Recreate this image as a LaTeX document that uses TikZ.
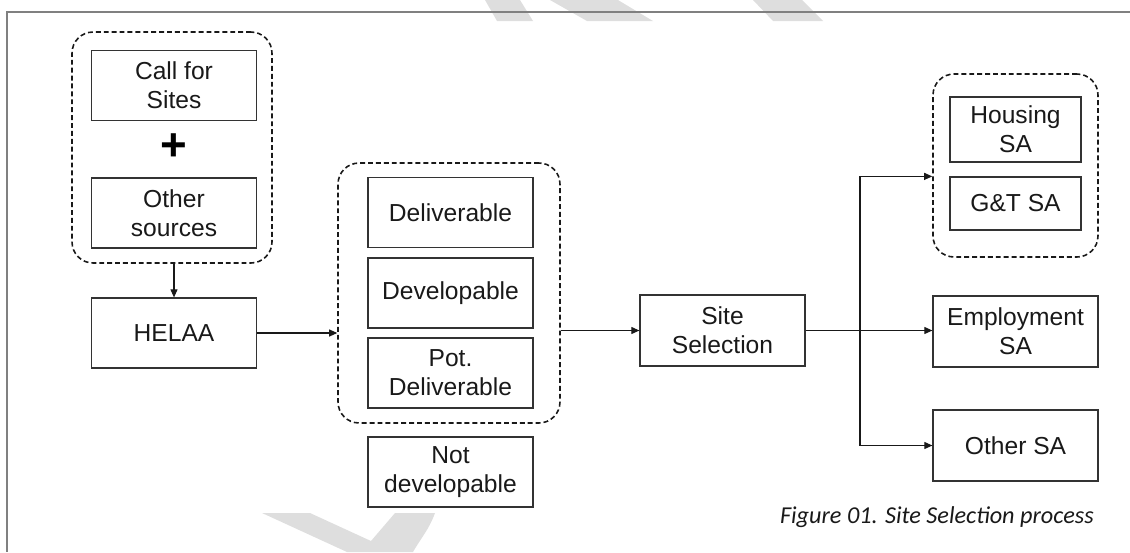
\documentclass[tikz,border=0pt]{standalone}
\usepackage{fontspec}
\setmainfont{Liberation Sans}
\newfontfamily\capfont{Carlito}
\usetikzlibrary{arrows.meta,positioning}

\begin{document}
\begin{tikzpicture}[x=0.02cm,y=-0.02cm,
    box/.style={draw=black!80,line width=0.7pt,text=black!90,align=center,
      font=\fontsize{14}{16.5}\selectfont,inner sep=0pt,
      minimum width=3.3cm,minimum height=1.4cm},
    group/.style={draw=black!90,line width=0.9pt,dash pattern=on 2.8pt off 1.7pt,
      rounded corners=0.42cm,inner sep=0pt},
    arr/.style={-{Triangle[length=4.6pt,width=4pt]},line width=0.6pt,black!90},
    wmark/.style={fill=black!13,draw=none}]
    \useasboundingbox (0,0) rectangle (1130,552);
    % faint watermark pieces in the margins
    \fill[wmark] (485,0)--(520,0)--(533,21)--(497,21)--cycle;
    \fill[wmark] (550,0)--(618,0)--(653,21)--(587,21)--cycle;
    \fill[wmark] (753,0)--(802,0)--(823,21)--(773,21)--cycle;
    \fill[wmark] (262,513)--(310,513)--(371,541)--(395,513)--(435,513)
      to[out=-110,in=60] (413,552)--(347,552)--cycle;
    % frame
    \draw[black!50,line width=1.1pt] (1130,12)--(7,12)--(7,552);

    % sources
    \node[group,minimum width=4cm,minimum height=4.62cm] (src) at (172,147.5) {};
    \node[box] (call) at (174,85.5) {Call for\\Sites};
    \node[text=black,font=\bfseries\fontsize{26}{26}\selectfont] (plus) at (174,147) {+};
    \node[box] (other) at (174,213) {Other\\sources};
    \node[box] (helaa) at (174,333) {HELAA};

    % assessment outcomes
    \node[group,minimum width=4.44cm,minimum height=5.2cm] (sites) at (449,293) {};
    \node[box] (deliv) at (450.5,212.5) {Deliverable};
    \node[box] (devel) at (450.5,293) {Developable};
    \node[box] (pot) at (450.5,373) {Pot.\\Deliverable};
    \node[box] (notdev) at (450.5,472) {Not\\developable};

    \node[box,minimum height=1.42cm] (select) at (722.5,330.5) {Site\\Selection};

    % sustainability appraisals
    \node[group,minimum width=3.3cm,minimum height=3.66cm] (res) at (1015.5,165.5) {};
    \node[box,minimum width=2.62cm,minimum height=1.3cm] (housing) at (1015.5,129.5) {Housing\\SA};
    \node[box,minimum width=2.62cm,minimum height=1.06cm] (gt) at (1015.5,203.5) {G\&T SA};
    \node[box,minimum height=1.42cm] (employ) at (1015.5,331.5) {Employment\\SA};
    \node[box,minimum height=1.42cm] (othersa) at (1015.5,445.5) {Other SA};

    \node[anchor=base east,text=black!90,font=\capfont\itshape\fontsize{13.8}{15}\selectfont]
      (caption) at (1100,523) {Figure 01. Site Selection process};

    % connectors
    \coordinate (split) at (860,330.5);
    \draw[arr] (helaa.north |- src.south) -- (helaa.north);
    \draw[arr] (helaa.east) -- (sites.west |- helaa.east);
    \draw[arr] (sites.east |- select.west) -- (select.west);
    \draw[arr] (select.east) -- (employ.west |- select.east);
    \draw[arr] (split) |- (res.west |- gt.north);
    \draw[arr] (split) |- (othersa.west);
\end{tikzpicture}
\end{document}
